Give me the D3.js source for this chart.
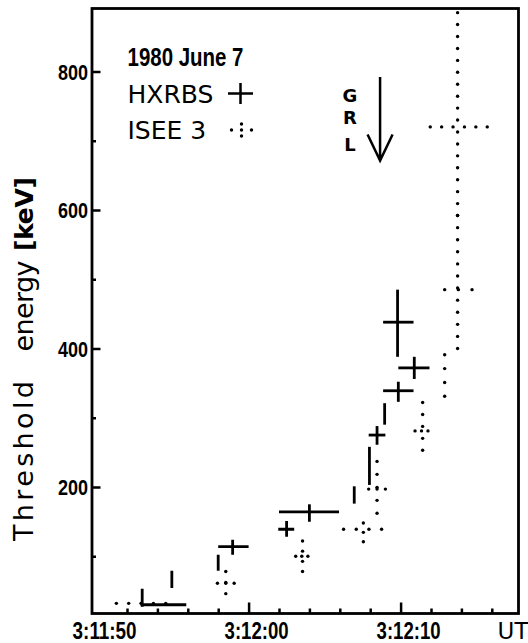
<!DOCTYPE html>
<html>
<head>
<meta charset="utf-8">
<script src="https://cdn.jsdelivr.net/npm/d3@7"></script>
<style>
  body { margin: 0; background: #fff; }
  svg { display: block; }
  .num { font-family: "Liberation Sans", Arial, sans-serif; font-weight: bold; }
  .lbl { font-family: "DejaVu Sans", sans-serif; }
</style>
</head>
<body>
<div id="chart"></div>
<script>
// times are seconds after 03:12:00 UT, energies in keV

// HXRBS crosses: [t start, t end, t of energy bar, energy, energy low, energy high]
const hxrbsCrosses = [
  [-7.1, -4.1, -7.0, 30, 27, 53],
  [-2.0, 0.0, -1.05, 114, 102, 124],
  [1.95, 3.0, 2.5, 139, 128, 151],
  [2.0, 5.95, 4.0, 164, 150, 175],
  [7.9, 9.0, 8.45, 275, 261, 288],
  [8.85, 10.85, 9.85, 339, 323, 352],
  [9.85, 11.9, 10.9, 372, 356, 388],
  [8.85, 10.85, 9.8, 438, 388, 485]
];

// HXRBS energy bars without time width: [t, energy low, energy high]
const hxrbsBars = [
  [-5.05, 54, 79],
  [-2.0, 79, 102],
  [6.95, 176, 201],
  [7.95, 203, 258],
  [8.95, 290, 321]
];

// ISEE 3 dotted crosses: [t start, t end, t of energy bar, energy, energy low, energy high]
const iseeCrosses = [
  [-8.7, -5.45, -7.1, 32, 32, 32],
  [-2.05, -0.95, -1.5, 61, 46, 78],
  [3.1, 3.9, 3.55, 100, 78, 122],
  [6.25, 8.75, 7.55, 139, 121, 148],
  [7.9, 9.0, 8.45, 197, 162, 237],
  [10.95, 11.8, 11.45, 281, 253, 322],
  [12.9, 12.9, 12.9, 360, 331, 391],
  [12.9, 14.7, 13.75, 485, 400, 592],
  [11.95, 15.7, 13.75, 720, 592, 885]
];

const timeMajor = [-10, 0, 10];
const timeLabels = ['3:11:50', '3:12:00', '3:12:10'];
const timeMinor = [-8, -6, -4, -2, 2, 4, 6, 8, 12, 14, 16];
const energyMajor = [200, 400, 600, 800];
const energyMinor = [100, 300, 500, 700];
const seriesNames = ['HXRBS', 'ISEE 3'];
const grlTime = 8.65;

const width = 528, height = 643;
const frame = { left: 92, right: 518.5, top: 8.5, bottom: 613.5 };

// --- scales, calibrated on the tick marks ---
const x = d3.scaleLinear().domain([-10, 10]).range([96.6, 400.6]);
const y = d3.scaleLinear().domain([200, 800]).range([487, 71.5]);

const svg = d3.select('#chart').append('svg')
  .attr('width', width)
  .attr('height', height);

svg.append('clipPath').attr('id', 'plot')
  .append('rect')
  .attr('x', frame.left)
  .attr('y', frame.top - 2)
  .attr('width', frame.right - frame.left)
  .attr('height', frame.bottom - frame.top + 2);

const marks = svg.append('g').attr('clip-path', 'url(#plot)');

// --- HXRBS ---
marks.selectAll('line.hx-t')
  .data(hxrbsCrosses)
  .join('line')
  .attr('class', 'hx-t')
  .attr('x1', d => x(d[0]))
  .attr('x2', d => x(d[1]))
  .attr('y1', d => y(d[3]))
  .attr('y2', d => y(d[3]));

marks.selectAll('line.hx-e')
  .data(hxrbsCrosses)
  .join('line')
  .attr('class', 'hx-e')
  .attr('x1', d => x(d[2]))
  .attr('x2', d => x(d[2]))
  .attr('y1', d => y(d[4]))
  .attr('y2', d => y(d[5]));

marks.selectAll('line.hx-bar')
  .data(hxrbsBars)
  .join('line')
  .attr('class', 'hx-bar')
  .attr('x1', d => x(d[0]))
  .attr('x2', d => x(d[0]))
  .attr('y1', d => y(d[1]))
  .attr('y2', d => y(d[2]));

marks.selectAll('line')
  .attr('stroke', '#000')
  .attr('stroke-width', 2.8);

// --- ISEE 3: dotted crosses ---
const dotStep = 12;
function dotLine(x1, y1, x2, y2) {
  const len = Math.hypot(x2 - x1, y2 - y1);
  if (len < 1) return [];
  const n = Math.max(2, Math.round(len / dotStep));
  return d3.range(n + 1).map(i => [x1 + (x2 - x1) * i / n, y1 + (y2 - y1) * i / n]);
}

const iseeDots = iseeCrosses.flatMap(d => [
  ...dotLine(x(d[0]), y(d[3]), x(d[1]), y(d[3])),
  ...dotLine(x(d[2]), y(d[5]), x(d[2]), y(d[4]))
]);

marks.selectAll('circle.isee')
  .data(iseeDots)
  .join('circle')
  .attr('class', 'isee')
  .attr('cx', d => d[0])
  .attr('cy', d => d[1])
  .attr('r', 1.7)
  .attr('fill', '#000');

// --- frame ---
svg.append('rect')
  .attr('x', frame.left)
  .attr('y', frame.top)
  .attr('width', frame.right - frame.left)
  .attr('height', frame.bottom - frame.top)
  .attr('fill', 'none')
  .attr('stroke', '#000')
  .attr('stroke-width', 2.8);

// --- time axis (ticks point inward) ---
const labelBase = 638.5;

const xMinor = svg.append('g')
  .attr('transform', `translate(0,${frame.bottom})`)
  .call(d3.axisBottom(x).tickValues(timeMinor).tickSize(-5).tickFormat(''));

const xMajor = svg.append('g')
  .attr('transform', `translate(0,${frame.bottom})`)
  .call(d3.axisBottom(x).tickValues(timeMajor).tickSize(-11)
    .tickFormat((d, i) => timeLabels[i]));

// tick lines that would sit on the frame are dropped
xMajor.selectAll('.tick line')
  .filter(d => x(d) - frame.left < 6)
  .remove();

xMajor.selectAll('.tick text')
  .attr('class', 'num')
  .attr('x', 7.5)
  .attr('y', labelBase - frame.bottom)
  .attr('dy', 0)
  .attr('font-size', 23)
  .attr('textLength', 64)
  .attr('lengthAdjust', 'spacingAndGlyphs')
  .attr('fill', '#000');

svg.append('text')
  .attr('class', 'lbl')
  .attr('x', 513)
  .attr('y', labelBase)
  .attr('text-anchor', 'middle')
  .attr('font-size', 23)
  .text('UT');

// --- energy axis ---
const yMinor = svg.append('g')
  .attr('transform', `translate(${frame.left},0)`)
  .call(d3.axisLeft(y).tickValues(energyMinor).tickSize(-4).tickFormat(''));

const yMajor = svg.append('g')
  .attr('transform', `translate(${frame.left},0)`)
  .call(d3.axisLeft(y).tickValues(energyMajor).tickSize(-8.5).tickPadding(4));

yMajor.selectAll('.tick text')
  .attr('class', 'num')
  .attr('font-size', 22)
  .attr('dy', '0.36em')
  .attr('textLength', 30)
  .attr('lengthAdjust', 'spacingAndGlyphs')
  .attr('fill', '#000');

[xMinor, xMajor, yMinor, yMajor].forEach(g => {
  g.select('.domain').remove();
  g.selectAll('.tick line').attr('stroke', '#000').attr('stroke-width', 2.5);
});

// --- y label ---
const yTitle = [
  { text: 'Threshold', cy: 461, len: 160, size: 27, bold: false },
  { text: 'energy', cy: 306, len: 91, size: 27, bold: false },
  { text: '[keV]', cy: 214, len: 74, size: 25, bold: true }
];
svg.selectAll('text.ytitle')
  .data(yTitle)
  .join('text')
  .attr('class', 'ytitle lbl')
  .attr('transform', d => `translate(33,${d.cy}) rotate(-90)`)
  .attr('text-anchor', 'middle')
  .attr('font-size', d => d.size)
  .attr('font-weight', d => d.bold ? 'bold' : 'normal')
  .attr('textLength', d => d.len)
  .attr('lengthAdjust', 'spacing')
  .text(d => d.text);

// --- legend ---
svg.append('text')
  .attr('class', 'num')
  .attr('x', 127.5)
  .attr('y', 65.7)
  .attr('font-size', 26)
  .attr('textLength', 116)
  .attr('lengthAdjust', 'spacingAndGlyphs')
  .text('1980 June 7');

svg.selectAll('text.legend')
  .data(seriesNames)
  .join('text')
  .attr('class', 'legend lbl')
  .attr('x', 127.5)
  .attr('y', (d, i) => 103 + i * 35.5)
  .attr('font-size', 25)
  .text(d => d);

const lx = 240.5, ly = 93.5;
svg.append('path')
  .attr('d', `M${lx - 12.5},${ly}H${lx + 12.5}M${lx},${ly - 10.5}V${ly + 10.5}`)
  .attr('stroke', '#000')
  .attr('stroke-width', 2.5);

const dx = 241.5, dy = 130;
svg.selectAll('circle.leg')
  .data([[-10, 0], [0, -6], [0, 0], [0, 6], [10, 0]])
  .join('circle')
  .attr('class', 'leg')
  .attr('cx', d => dx + d[0])
  .attr('cy', d => dy + d[1])
  .attr('r', 1.7);

// --- GRL arrow ---
const ax = x(grlTime);
svg.append('path')
  .attr('d', `M${ax},77V160.5M${ax - 12.5},134.5L${ax},160.5L${ax + 12.5},134.5`)
  .attr('fill', 'none')
  .attr('stroke', '#000')
  .attr('stroke-width', 2.5);

// one text element, letters stacked
svg.append('text')
  .attr('class', 'lbl')
  .attr('font-size', 18)
  .attr('font-weight', 'bold')
  .attr('text-anchor', 'middle')
  .selectAll('tspan')
  .data(['G', 'R', 'L'])
  .join('tspan')
  .attr('x', 350)
  .attr('y', (d, i) => [102, 124, 151][i])
  .text(d => d);
</script>
</body>
</html>
